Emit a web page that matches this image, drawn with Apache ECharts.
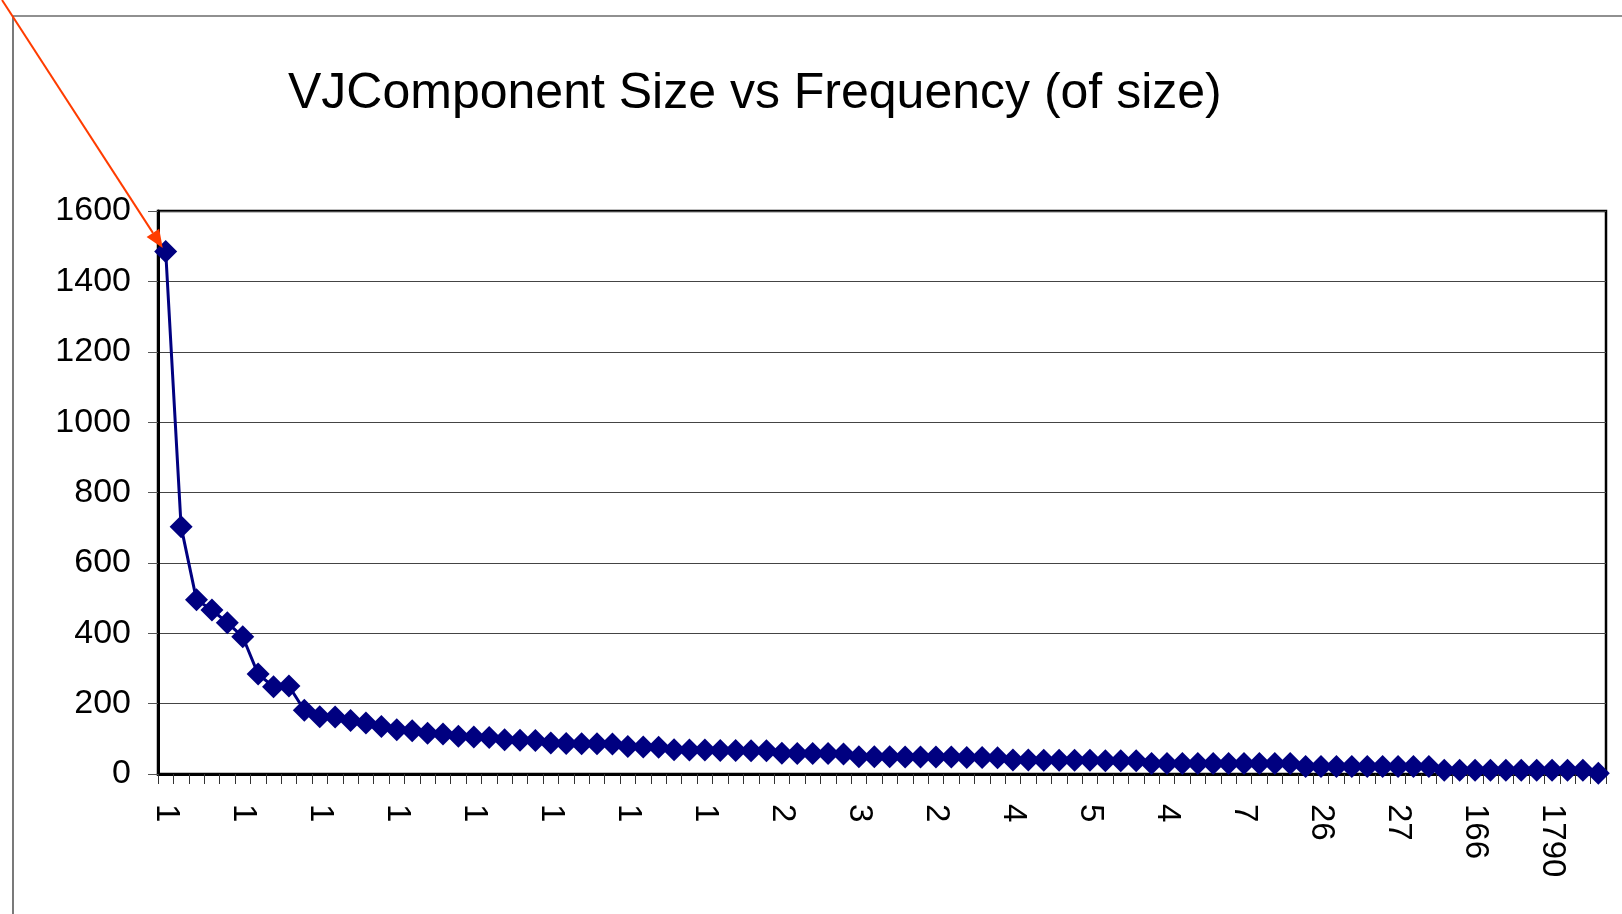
<!DOCTYPE html>
<html>
<head>
<meta charset="utf-8">
<script src="https://cdn.jsdelivr.net/npm/echarts@6/dist/echarts.min.js"></script>
<style>
html,body{margin:0;padding:0;background:#fff;}
#c{width:1622px;height:914px;}
</style>
</head>
<body>
<div id="c"></div>
<script>
// Category (component size) labels, one per point
const sizes = [
  '1','1','1','1','1','1','1','1','1','1',
  '1','1','1','1','1','1','1','1','1','1',
  '1','1','1','1','1','1','1','1','1','1',
  '1','1','1','1','1','1','1','1','1','1',
  '2','2','2','2','2','3','3','3','3','3',
  '2','2','2','2','2','4','4','4','4','4',
  '5','5','5','5','5','4','4','4','4','4',
  '7','7','7','7','7','26','26','26','26','26',
  '27','27','27','27','27','166','166','166','166','166',
  '1790','1790','1790','1790'
];
// Frequency of each size
const frequency = [
  1485, 703, 495, 466, 430, 390, 284, 248, 250, 181,
  163, 162, 152, 145, 135, 126, 123, 116, 114, 107,
  105, 104, 97, 96, 95, 88, 87, 86, 86, 85,
  78, 77, 76, 69, 68, 68, 67, 67, 66, 66,
  59, 58, 58, 58, 57, 49, 49, 49, 48, 48,
  48, 48, 47, 47, 46, 40, 40, 39, 39, 39,
  39, 38, 38, 38, 30, 30, 30, 30, 30, 30,
  30, 30, 30, 30, 21, 21, 21, 21, 21, 21,
  21, 21, 21, 11, 11, 11, 11, 11, 11, 11,
  11, 11, 11, 2
];
const yTicks = [0, 200, 400, 600, 800, 1000, 1200, 1400, 1600];
const titleText = 'VJComponent Size vs Frequency (of size)';

const FONT = "'Liberation Sans', Arial, sans-serif";
const chart = echarts.init(document.getElementById('c'), null, {renderer: 'canvas'});
const option = {
  animation: false,
  backgroundColor: '#fff',
  title: {
    text: titleText,
    left: 283,
    top: 64,
    textStyle: {fontFamily: FONT, fontSize: 50, fontWeight: 'normal', color: '#000'}
  },
  grid: {
    left: 158, top: 211, right: 16, bottom: 140,
    show: true, borderColor: '#000', borderWidth: 2.5, backgroundColor: 'transparent'
  },
  xAxis: {
    type: 'category',
    data: sizes,
    boundaryGap: true,
    axisLine: {lineStyle: {color: '#000', width: 3}},
    axisTick: {show: true, interval: 0, length: 10, lineStyle: {color: '#333', width: 1}},
    axisLabel: {
      interval: 4, rotate: -90, margin: 30,
      fontFamily: FONT, fontSize: 33, color: '#000'
    },
    splitLine: {show: false}
  },
  yAxis: {
    type: 'value',
    min: yTicks[0], max: yTicks[yTicks.length - 1], interval: 200,
    axisLine: {show: true, lineStyle: {color: '#000', width: 3}},
    axisTick: {show: true, length: 10, lineStyle: {color: '#555', width: 1}},
    axisLabel: {margin: 27, fontFamily: FONT, fontSize: 34, color: '#000',
                formatter: v => String(v)},
    splitLine: {show: true, lineStyle: {color: '#444', width: 1}}
  },
  series: [{
    type: 'line',
    data: frequency,
    clip: false,
    showAllSymbol: true,
    symbol: 'diamond',
    symbolSize: 23,
    lineStyle: {color: '#000080', width: 3},
    itemStyle: {color: '#000080'},
    z: 3
  }]
};
chart.setOption(option);

// Annotation arrow pointing at the first data point, plus chart-area frame
const p = chart.convertToPixel({xAxisIndex: 0, yAxisIndex: 0}, [0, frequency[0]]);
const tip = [p[0] - 3, p[1] - 3.5];
const start = [2, 0];
const dx = tip[0] - start[0], dy = tip[1] - start[1];
const L = Math.sqrt(dx * dx + dy * dy);
const ux = dx / L, uy = dy / L;
const headLen = 18, headW = 7.5;
const base = [tip[0] - ux * headLen, tip[1] - uy * headLen];
chart.setOption({
  graphic: [
    {type: 'polyline', silent: true, z: 0,
     shape: {points: [[13, 914], [13, 16], [1622, 16]]},
     style: {stroke: '#222', lineWidth: 1.2, fill: null}},
    {type: 'line', silent: true, z: 10,
     shape: {x1: start[0], y1: start[1], x2: base[0], y2: base[1]},
     style: {stroke: '#ff3c00', lineWidth: 2}},
    {type: 'polygon', silent: true, z: 10,
     shape: {points: [tip,
       [base[0] + (-uy) * headW, base[1] + ux * headW],
       [base[0] - (-uy) * headW, base[1] - ux * headW]]},
     style: {fill: '#ff3c00'}}
  ]
});
</script>
</body>
</html>
